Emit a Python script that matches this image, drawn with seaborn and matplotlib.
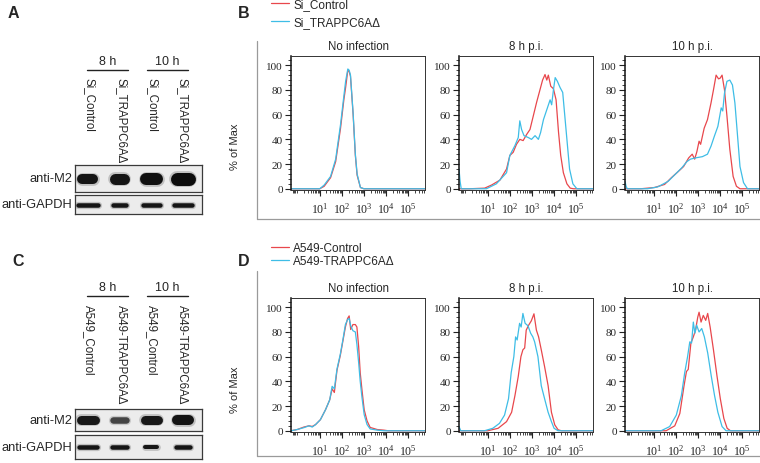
# Western blot + flow cytometry figure (TRAPPC6A knock-down / knock-out, M2 staining)
import numpy as np
import pandas as pd
import matplotlib.pyplot as plt
import matplotlib.ticker as mticker
from matplotlib.lines import Line2D
import seaborn as sns

sns.set_style('white')
plt.rcParams['font.family'] = ['Liberation Sans', 'DejaVu Sans']
plt.rcParams['mathtext.fontset'] = 'custom'
plt.rcParams['mathtext.rm'] = 'Liberation Serif'
plt.rcParams['mathtext.it'] = 'Liberation Serif:italic'

# ---------------- data ----------------
# western blots: lanes, band sizes in px (width, thickness)
lanes_a = ['Si_Control', 'Si_TRAPPC6AΔ', 'Si_Control', 'Si_TRAPPC6AΔ']
lanes_c = ['A549_Control', 'A549-TRAPPC6AΔ', 'A549_Control', 'A549-TRAPPC6AΔ']
time_groups = ['8 h', '10 h']
m2_width_a = [21, 20, 23, 25]
m2_thick_a = [10, 11, 12, 13]
m2_shade_a = ['#151515', '#151515', '#101010', '#0c0c0c']
gapdh_width_a = [24, 17, 21, 22]
gapdh_thick_a = [4.5, 4.5, 4.5, 4.5]
m2_width_c = [23, 19, 22, 23]
m2_thick_c = [9, 6.5, 9, 10]
m2_shade_c = ['#181818', '#444444', '#181818', '#141414']
gapdh_width_c = [22, 20, 16, 18]
gapdh_thick_c = [4.5, 4.5, 4, 4.5]

# flow histograms: x = log10 fluorescence, y = % of max
b_none_x = [-0.3, 1.0, 1.2, 1.49, 1.72, 1.94, 2.09, 2.17, 2.27, 2.33, 2.39, 2.51, 2.61, 2.69, 2.84, 3.0, 5.76]
b_none_ctrl = [0, 0, 2, 9, 22, 49, 72, 82, 96, 95, 91, 60, 27, 11, 1, 0, 0]
b_none_kd = [0, 0, 3, 10, 24, 52, 75, 87, 97, 96, 92, 61, 28, 12, 1, 0, 0]

b_8h_ctrl_x = [-0.3, 0.18, 0.86, 1.17, 1.55, 1.85, 2.0, 2.15, 2.30, 2.45, 2.6, 2.76, 2.91, 3.06, 3.21,
               3.36, 3.48, 3.59, 3.67, 3.74, 3.85, 3.97, 4.09, 4.2, 4.3, 4.42, 4.58, 4.73, 4.88, 5.76]
b_8h_ctrl = [0, 0, 0.5, 3, 7, 16, 27, 29.5, 36, 40, 39, 44, 48, 59, 70,
             80, 88, 92.5, 88, 92, 83, 81, 72, 46, 27, 13, 4, 0.5, 0, 0]
b_8h_kd_x = [-0.3, -0.25, -0.2, 0.94, 1.39, 1.85, 2.0, 2.23, 2.38, 2.45, 2.53, 2.64, 2.83, 2.98, 3.14, 3.29,
             3.39, 3.52, 3.67, 3.82, 3.89, 3.97, 4.05, 4.15, 4.27, 4.39, 4.55, 4.70, 4.85, 5.03, 5.76]
b_8h_kd = [16, 6, 0, 0, 4, 13, 27, 35, 41.5, 55, 48, 43, 41.5, 40, 43, 40,
           45.5, 56, 64, 72, 68, 80, 90, 87, 82, 78, 46, 16, 4, 0, 0]

b_10h_ctrl_x = [-0.3, 0.41, 1.03, 1.49, 1.80, 2.11, 2.35, 2.58, 2.74, 2.85, 2.95, 3.05, 3.12, 3.28, 3.43,
                3.59, 3.70, 3.82, 3.93, 4.0, 4.09, 4.20, 4.31, 4.44, 4.59, 4.74, 4.90, 5.76]
b_10h_ctrl = [0, 0, 1, 3.5, 9, 14, 18, 25, 28, 24, 30, 38.5, 36, 49, 56,
              69.5, 80, 92, 89, 89.5, 92, 80, 59, 32, 10, 2, 0, 0]
b_10h_kd_x = [-0.3, -0.25, -0.2, 0.72, 1.18, 1.65, 1.96, 2.27, 2.50, 2.66, 2.89, 3.20, 3.43, 3.59,
              3.74, 3.90, 4.05, 4.12, 4.20, 4.31, 4.44, 4.56, 4.67, 4.78, 4.90, 5.06, 5.24, 5.76]
b_10h_kd = [6, 2, 0, 0, 1.5, 6, 11.5, 17, 22, 24, 25, 26, 28, 34.5,
            42.5, 50.5, 65.5, 63, 77.5, 87, 88, 84, 69.5, 45, 18, 5, 0, 0]

d_none_x = [-0.3, -0.02, 0.28, 0.51, 0.66, 0.81, 1.03, 1.26, 1.45, 1.56, 1.66, 1.78, 1.93, 2.05, 2.16, 2.26,
            2.33, 2.40, 2.50, 2.61, 2.68, 2.76, 2.83, 2.91, 3.01, 3.14, 3.28, 3.6, 3.9, 4.1, 5.76]
d_none_ctrl = [0, 1, 3, 4, 3.5, 5, 9, 17, 25, 34, 31, 49, 61, 73, 84, 91,
               93, 82, 86, 86, 84, 68, 47, 33, 17, 8, 2.7, 1, 0.5, 0, 0]
d_none_kd = [0, 1, 2.5, 4, 3, 5, 9, 17, 25, 36, 34, 50, 62, 74, 86, 90,
             91, 85, 81, 80, 70, 55, 40, 27, 13, 5, 1.5, 0.5, 0, 0, 0]

d_8h_ctrl_x = [-0.3, 1.0, 1.47, 1.85, 2.08, 2.23, 2.38, 2.50, 2.59, 2.67, 2.74, 2.85, 2.97, 3.09,
               3.20, 3.30, 3.42, 3.57, 3.73, 3.88, 4.03, 4.18, 4.33, 5.76]
d_8h_ctrl = [0, 0, 2, 7.4, 15, 28.5, 44, 60, 65.6, 67, 81.5, 85.5, 89, 94.7,
             81.5, 76, 65.6, 52, 36.5, 15, 4.8, 0.8, 0, 0]
d_8h_kd_x = [-0.3, -0.22, 0.85, 1.23, 1.53, 1.76, 1.94, 2.06, 2.18, 2.26, 2.33, 2.44, 2.51, 2.59,
             2.69, 2.82, 2.94, 3.04, 3.12, 3.27, 3.42, 3.57, 3.73, 3.88, 4.0, 4.18, 5.76]
d_8h_kd = [3.4, 0, 0, 2, 6, 12.7, 26, 47, 60, 76, 73.5, 87, 84, 95,
           87, 85, 79, 76, 72, 60, 36.5, 26, 15, 7.4, 2, 0, 0]

d_10h_ctrl_x = [-0.3, 1.56, 1.95, 2.18, 2.37, 2.48, 2.56, 2.68, 2.79, 2.89, 2.99, 3.05, 3.14, 3.24,
                3.35, 3.44, 3.55, 3.70, 3.86, 4.01, 4.17, 4.32, 4.47, 5.76]
d_10h_ctrl = [0, 0, 4, 14, 36.5, 48, 49.7, 71, 76, 81.5, 92, 96, 88, 93.4,
              89.4, 95, 84, 65.6, 44.4, 26, 10, 2, 0, 0]
d_10h_kd_x = [-0.3, 1.33, 1.72, 2.02, 2.25, 2.40, 2.53, 2.63, 2.71, 2.79, 2.86, 2.94, 3.05, 3.17,
              3.29, 3.44, 3.60, 3.75, 3.90, 4.09, 4.27, 5.76]
d_10h_kd = [0, 0, 3.4, 12.7, 28.5, 47, 60, 72, 71, 88, 79, 85.5, 80, 82.8,
            76, 63, 44.4, 28.5, 15, 3.4, 0, 0]

titles = ['No infection', '8 h p.i.', '10 h p.i.']
legend_b = ['Si_Control', 'Si_TRAPPC6AΔ']
legend_d = ['A549-Control', 'A549-TRAPPC6AΔ']
decades = [1, 2, 3, 4, 5]

RED = '#e8474c'
CYAN = '#3ebde6'
W, H = 760, 464

fig = plt.figure(figsize=(W / 100, H / 100), dpi=100)


def box(x0, y0, x1, y1):
    # pixel box (top-left origin) -> figure fraction rect
    return [x0 / W, 1 - y1 / H, (x1 - x0) / W, (y1 - y0) / H]


def ftxt(x, y, s, **kw):
    fig.text(x / W, 1 - y / H, s, **kw)


def fline(x0, y0, x1, y1, **kw):
    fig.add_artist(Line2D([x0 / W, x1 / W], [1 - y0 / H, 1 - y1 / H], **kw))


# ---------------- flow histograms ----------------
def flow_ax(rect, title, xc, yc, xk, yk):
    ax = fig.add_axes(rect)
    ax.set_xscale('log')
    for xs, ys, col in [(xc, yc, RED), (xk, yk, CYAN)]:
        df = pd.DataFrame({'fl': np.power(10.0, xs), 'pct': ys})
        sns.lineplot(data=df, x='fl', y='pct', ax=ax, color=col, lw=0.9,
                     estimator=None, sort=False)
    ax.set_xlim(10 ** -0.3, 10 ** 5.76)
    ax.set_ylim(-1, 107.5)
    ax.set_xlabel('')
    ax.set_ylabel('')
    ax.set_xticks([10.0 ** d for d in decades])
    ax.set_xticklabels([r'$10^{%d}$' % d for d in decades])
    ax.xaxis.set_minor_locator(mticker.LogLocator(base=10, subs=np.arange(2, 10), numticks=20))
    ax.xaxis.set_minor_formatter(mticker.NullFormatter())
    ax.set_yticks([0, 20, 40, 60, 80, 100])
    ax.set_yticklabels(['0', '20', '40', '60', '80', '100'], fontfamily='Liberation Serif')
    ax.yaxis.set_minor_locator(mticker.AutoMinorLocator(5))
    ax.tick_params(which='both', direction='out', bottom=True, left=True, color='#222')
    ax.tick_params(axis='x', which='major', length=4, width=0.8, labelsize=8.6, pad=4)
    ax.tick_params(axis='x', which='minor', length=2.5, width=0.6)
    ax.tick_params(axis='y', which='major', length=4, width=0.8, labelsize=8, pad=2)
    ax.tick_params(axis='y', which='minor', length=2.5, width=0.6)
    for s in ax.spines.values():
        s.set_color('#333333')
        s.set_linewidth(0.7)
    ax.spines['left'].set_color('#111111')
    ax.spines['left'].set_linewidth(1.1)
    ax.set_title(title, fontsize=8.3, pad=5)
    return ax


cols = [(291, 425), (459, 593), (625, 759)]
b_sets = [(b_none_x, b_none_ctrl, b_none_x, b_none_kd),
          (b_8h_ctrl_x, b_8h_ctrl, b_8h_kd_x, b_8h_kd),
          (b_10h_ctrl_x, b_10h_ctrl, b_10h_kd_x, b_10h_kd)]
d_sets = [(d_none_x, d_none_ctrl, d_none_x, d_none_kd),
          (d_8h_ctrl_x, d_8h_ctrl, d_8h_kd_x, d_8h_kd),
          (d_10h_ctrl_x, d_10h_ctrl, d_10h_kd_x, d_10h_kd)]

b_axes = [flow_ax(box(x0, 57, x1, 191), t, *s) for (x0, x1), t, s in zip(cols, titles, b_sets)]
d_axes = [flow_ax(box(x0, 299, x1, 433), t, *s) for (x0, x1), t, s in zip(cols, titles, d_sets)]

for axes, labels, yc, top, bot, ylab in [(b_axes, legend_b, 13.9, 42, 220, 147),
                                           (d_axes, legend_d, 255.7, 272, 457, 390)]:
    lines = axes[0].get_lines()[:2]
    fig.legend(lines, labels, loc='center left', bbox_to_anchor=(271 / W, 1 - yc / H),
               frameon=False, fontsize=8.5, handlelength=1.55, handletextpad=0.35,
               labelspacing=0.5 if top < 100 else 0.13, borderpad=0, borderaxespad=0)
    fline(257, top, 257, bot, color='#9a9a9a', lw=0.9)
    fline(257, bot, 760, bot, color='#9a9a9a', lw=0.9)
    ftxt(235, ylab, '% of Max', rotation=90, ha='center', va='center', fontsize=8)


# ---------------- western blots ----------------
def blot_strip(rect, widths, thicks, shades):
    ax = fig.add_axes(rect)
    ax.set_facecolor('#ececec')
    ax.set_xlim(-0.41, 3.6)
    ax.set_ylim(-1, 1)
    lane_px = 31.7
    for i, (w, t, c) in enumerate(zip(widths, thicks, shades)):
        half = (w - t) / 2 / lane_px
        t_pt = t * 0.72
        ax.plot([i - half, i + half], [0, 0], color=c, lw=t_pt + 2.0, alpha=0.2,
                solid_capstyle='round')
        ax.plot([i - half, i + half], [0, 0], color=c, lw=t_pt, solid_capstyle='round')
    ax.set_xticks([])
    ax.set_yticks([])
    for s in ax.spines.values():
        s.set_visible(True)
        s.set_color('#3a3a3a')
        s.set_linewidth(0.9)
    return ax


def blot_panel(y_head, y_lab, m2_box, g_box, labels, m2w, m2t, m2s, gw, gt):
    lane_x = [89, 121, 152, 182]
    for (xa, xb), name in zip([(87, 128), (147, 188)], time_groups):
        ftxt((xa + xb) / 2, y_head, name, ha='center', va='center', fontsize=9)
        fline(xa, y_head + 9, xb, y_head + 9, color='#222', lw=1.0)
    for x, lab in zip(lane_x, labels):
        ftxt(x, y_lab, lab, rotation=270, ha='center', va='top', fontsize=8.3)
    blot_strip(box(75, m2_box[0], 202, m2_box[1]), m2w, m2t, m2s)
    blot_strip(box(75, g_box[0], 202, g_box[1]), gw, gt, ['#151515'] * 4)
    ftxt(72, sum(m2_box) / 2, 'anti-M2', ha='right', va='center', fontsize=9.3)
    ftxt(72, sum(g_box) / 2, 'anti-GAPDH', ha='right', va='center', fontsize=9.3)


blot_panel(62, 78, (166, 193), (196, 215), lanes_a,
           m2_width_a, m2_thick_a, m2_shade_a, gapdh_width_a, gapdh_thick_a)
blot_panel(288, 305, (410, 432), (436, 460), lanes_c,
           m2_width_c, m2_thick_c, m2_shade_c, gapdh_width_c, gapdh_thick_c)

# panel letters
for x, y, s in [(13, 13, 'A'), (244, 13, 'B'), (18, 261, 'C'), (244, 261, 'D')]:
    ftxt(x, y, s, ha='center', va='center', fontsize=11.5, fontweight='bold')

fig.savefig('out.png', dpi=100)
